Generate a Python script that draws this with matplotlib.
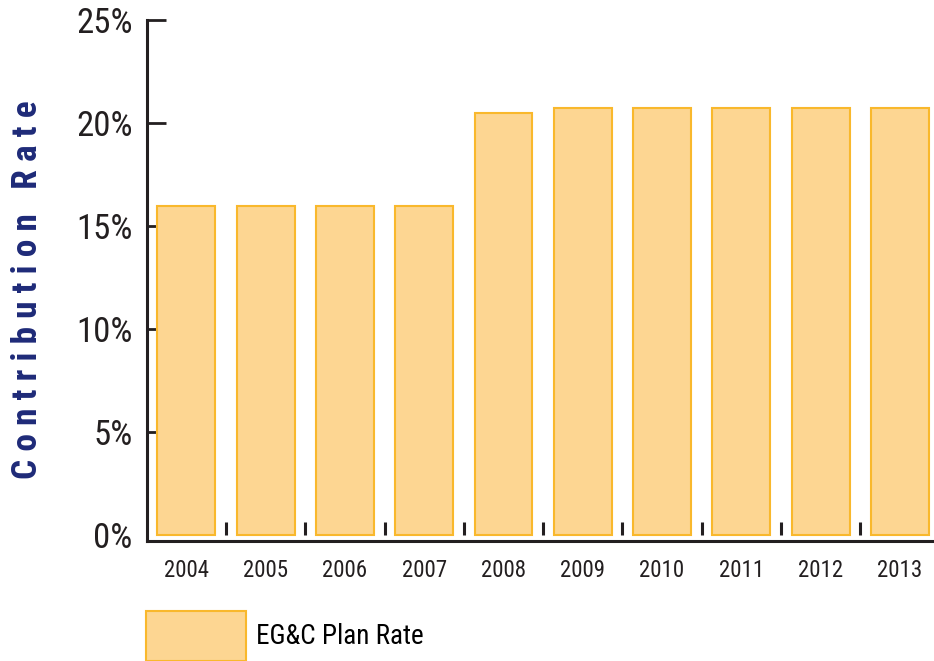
import numpy as np
import matplotlib
matplotlib.use('Agg')
import matplotlib.pyplot as plt

years = ['2004', '2005', '2006', '2007', '2008',
         '2009', '2010', '2011', '2012', '2013']
plan_rate = [16.0, 16.0, 16.0, 16.0, 20.5,
             20.75, 20.75, 20.75, 20.75, 20.75]
y_ticks = [0, 5, 10, 15, 20, 25]
y_tick_labels = ['0%', '5%', '10%', '15%', '20%', '25%']
series_label = 'EG&C Plan Rate'
y_label = 'Contribution Rate'

fill_color = '#FDD692'
edge_color = '#F9B82C'
axis_color = '#231F20'
label_color = '#1E2A78'

plt.rcParams['font.family'] = ['Roboto Condensed', 'DejaVu Sans']

fig = plt.figure(figsize=(9.34, 6.61), dpi=100)
ax = fig.add_axes([0.157, 0.1815, 0.843, 0.7875])

x = np.arange(len(years))
bars = ax.bar(
    x,
    plan_rate,
    width=0.73,
    color=fill_color,
    edgecolor=edge_color,
    linewidth=1.5,
    label=series_label,
    zorder=2)

# small separators between the bars, standing on the zero line
ax.vlines(
    x[:-1] + 0.5,
    0,
    0.63,
    colors=axis_color,
    linewidth=2.2,
    zorder=3)

ax.set_xlim(-0.5, len(years) - 1 + 0.43)
ax.set_ylim(-0.27, 25)
ax.set_axisbelow(True)

ax.set_xticks(x)
ax.set_xticklabels(years)
ax.set_yticks(y_ticks)
ax.set_yticklabels(y_tick_labels)

ax.tick_params(
    axis='x',
    length=0,
    pad=13,
    labelsize=16.5,
    labelcolor=axis_color)
ax.tick_params(
    axis='y',
    direction='in',
    length=14,
    width=2,
    color=axis_color,
    pad=10,
    labelsize=25,
    labelcolor=axis_color)
ax.yaxis.get_major_ticks()[0].tick1line.set_visible(False)

for side in ['top', 'right']:
    ax.spines[side].set_visible(False)
for side in ['left', 'bottom']:
    ax.spines[side].set_color(axis_color)
    ax.spines[side].set_linewidth(2.2)
ax.spines['left'].set_bounds(-0.27, 25)

spaced = '   '.join(' '.join(word) for word in y_label.split())
fig.text(
    0.029,
    1 - 290 / 661,
    spaced,
    rotation=90,
    ha='center',
    va='center',
    fontsize=25.5,
    fontweight='bold',
    color=label_color)

fig.legend(
    handles=[bars],
    labels=[series_label],
    loc='upper left',
    bbox_to_anchor=(146 / 934, 1 - 611 / 661),
    frameon=False,
    borderpad=0,
    borderaxespad=0,
    handlelength=3.68,
    handleheight=2.45,
    handletextpad=0.38,
    prop={'size': 19.5})

plt.savefig('out.png', dpi=100)
plt.close(fig)
